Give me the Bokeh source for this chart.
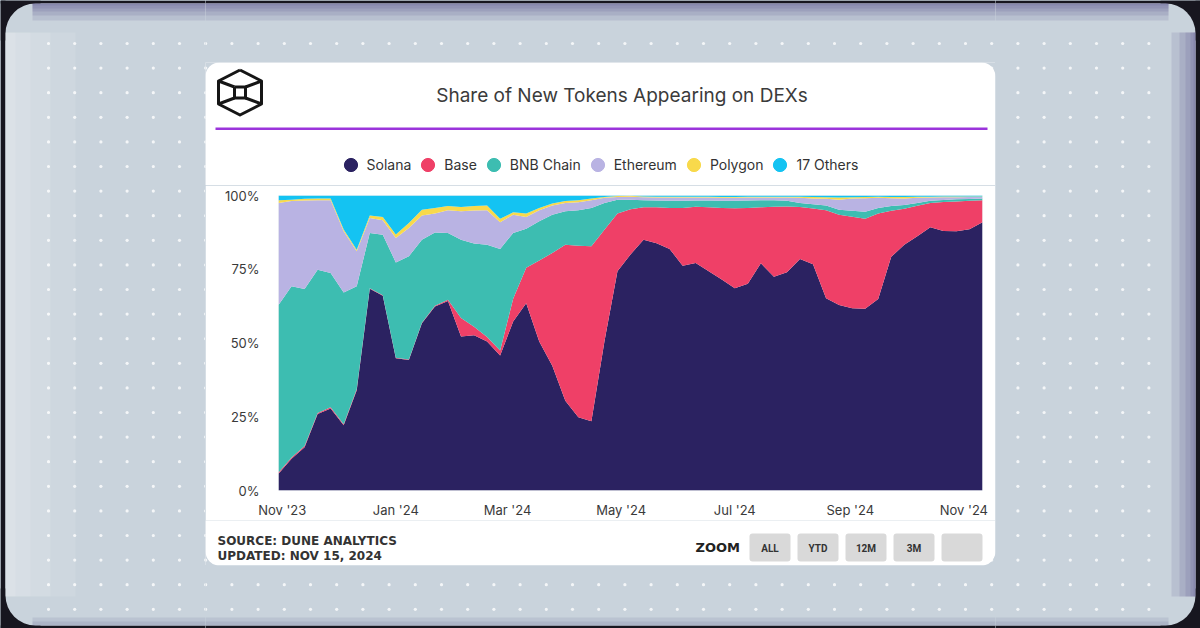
import numpy as np
import pandas as pd
from bokeh.plotting import figure
from bokeh.layouts import column, row
from bokeh.models import (ColumnDataSource, FixedTicker, DatetimeTickFormatter, PrintfTickFormatter,
                          BoxAnnotation, Label, Legend, LegendItem, Range1d)
from bokeh.embed import file_html
from bokeh.resources import INLINE

# ---------------- data (share of new tokens, %) ----------------
dates = ["2023-10-30", "2023-11-06", "2023-11-13", "2023-11-20", "2023-11-27",
         "2023-12-04", "2023-12-11", "2023-12-18", "2023-12-25", "2024-01-01",
         "2024-01-08", "2024-01-15", "2024-01-22", "2024-01-29", "2024-02-05",
         "2024-02-12", "2024-02-19", "2024-02-26", "2024-03-04", "2024-03-11",
         "2024-03-18", "2024-03-25", "2024-04-01", "2024-04-08", "2024-04-15",
         "2024-04-22", "2024-04-29", "2024-05-06", "2024-05-13", "2024-05-20",
         "2024-05-27", "2024-06-03", "2024-06-10", "2024-06-17", "2024-06-24",
         "2024-07-01", "2024-07-08", "2024-07-15", "2024-07-22", "2024-07-29",
         "2024-08-05", "2024-08-12", "2024-08-19", "2024-08-26", "2024-09-02",
         "2024-09-09", "2024-09-16", "2024-09-23", "2024-09-30", "2024-10-07",
         "2024-10-14", "2024-10-21", "2024-10-28", "2024-11-04", "2024-11-11"]

solana = [5.7, 10.8, 14.7, 25.9, 27.8, 22.1, 34.0, 68.4, 66.0, 44.8,
          44.2, 56.7, 62.4, 64.2, 52.2, 52.6, 50.5, 45.8, 57.3, 63.5,
          50.5, 42.3, 30.4, 24.8, 23.5, 50.5, 74.3, 80.0, 85.0, 83.8,
          81.9, 76.2, 77.1, 74.3, 71.5, 68.6, 70.1, 77.0, 72.5, 74.0,
          78.5, 76.7, 65.2, 62.9, 61.8, 61.6, 64.9, 79.2, 83.3, 86.2,
          89.2, 88.0, 87.9, 88.6, 90.9]
base = [0.4, 0.4, 0.4, 0.4, 0.4, 0.4, 0.4, 0.2, 0.2, 0.2,
        0.2, 0.2, 0.2, 0.5, 6.3, 2.9, 1.5, 1.7, 7.7, 12.0,
        27.5, 38.2, 52.9, 58.2, 59.3, 37.9, 19.6, 15.3, 11.0, 12.2,
        13.9, 19.6, 19.1, 21.7, 24.3, 27.1, 25.7, 19.0, 23.7, 22.3,
        17.6, 18.9, 29.8, 30.6, 31.0, 30.5, 29.0, 15.6, 12.2, 10.3,
        8.3, 9.8, 10.1, 9.6, 7.5]
bnb_chain = [56.8, 58.0, 53.2, 48.5, 45.5, 44.6, 34.8, 18.7, 20.5, 32.3,
             35.0, 28.1, 24.9, 22.6, 26.5, 28.2, 31.3, 34.4, 22.3, 13.2,
             13.3, 13.0, 11.4, 12.0, 13.0, 9.1, 4.7, 3.3, 2.4, 2.3,
             2.4, 2.4, 2.1, 2.3, 2.4, 2.5, 2.5, 2.4, 2.2, 1.9,
             1.4, 1.4, 1.6, 1.7, 2.0, 2.4, 1.9, 1.6, 1.3, 1.0,
             0.7, 0.7, 0.7, 0.6, 0.6]
ethereum = [34.6, 28.9, 30.0, 23.6, 24.7, 20.8, 11.9, 5.1, 4.9, 8.3,
            9.6, 8.2, 6.4, 7.7, 9.7, 11.2, 11.7, 9.0, 6.2, 4.0,
            3.7, 3.1, 2.8, 2.7, 2.6, 1.7, 0.9, 1.0, 1.0, 1.0,
            1.1, 1.1, 1.0, 1.0, 1.0, 1.0, 1.0, 0.9, 0.9, 1.1,
            1.7, 2.0, 2.3, 3.4, 4.2, 4.6, 3.4, 2.7, 2.2, 1.7,
            1.1, 0.9, 0.7, 0.7, 0.5]
polygon = [0.9, 0.5, 0.6, 0.6, 0.6, 0.6, 0.5, 0.8, 1.1, 1.2,
           1.7, 2.0, 1.9, 1.4, 1.4, 1.5, 1.6, 1.2, 0.8, 1.2,
           0.8, 0.7, 0.6, 0.7, 0.6, 0.3, 0.3, 0.3, 0.3, 0.3,
           0.3, 0.3, 0.3, 0.3, 0.3, 0.3, 0.3, 0.3, 0.3, 0.3,
           0.4, 0.5, 0.5, 0.7, 0.4, 0.4, 0.4, 0.4, 0.5, 0.4,
           0.3, 0.3, 0.3, 0.2, 0.2]
others = [1.6, 1.4, 1.1, 1.0, 1.0, 11.5, 18.4, 6.8, 7.3, 13.2,
          9.3, 4.8, 4.2, 3.6, 3.9, 3.6, 3.4, 7.9, 5.7, 6.1,
          4.2, 2.7, 1.9, 1.6, 1.0, 0.5, 0.2, 0.1, 0.3, 0.4,
          0.4, 0.4, 0.4, 0.4, 0.5, 0.5, 0.4, 0.4, 0.4, 0.4,
          0.4, 0.5, 0.6, 0.7, 0.6, 0.5, 0.4, 0.5, 0.5, 0.4,
          0.4, 0.3, 0.3, 0.3, 0.3]

series_names = ["Solana", "Base", "BNB Chain", "Ethereum", "Polygon", "17 Others"]
series_values = [solana, base, bnb_chain, ethereum, polygon, others]
series_colors = ["#2b2261", "#ef4067", "#3dbdb1", "#b9b3e3", "#f8d94b", "#14c3f2"]

y_ticks = [0, 25, 50, 75, 100]
x_tick_dates = ["2023-11-01", "2024-01-01", "2024-03-01", "2024-05-01",
                "2024-07-01", "2024-09-01", "2024-11-01"]
title_text = "Share of New Tokens Appearing on DEXs"
source_lines = ["SOURCE: DUNE ANALYTICS", "UPDATED: NOV 15, 2024"]
zoom_label = "ZOOM"
zoom_buttons = ["ALL", "YTD", "12M", "3M", ""]

# ---------------- styling constants ----------------
DARK = "#17161f"
PANEL = "#c9d3dc"
SHADE = "#3f3b78"
TEXT = "#333333"

def box(f, X0, Y0, X1, Y1, color, alpha=1.0, radius=0, level="image"):
    f.add_layout(BoxAnnotation(left=X0, right=X1, top=Y0, bottom=Y1,
                               fill_color=color, fill_alpha=alpha, line_color=None,
                               border_radius=radius, level=level))

def lab(f, X, Y, text, size, color=TEXT, font="Inter", style="normal", align="left"):
    f.add_layout(Label(x=X, y=Y, text=text, text_font_size=f"{size}px", text_color=color,
                       text_font=font, text_font_style=style, text_align=align,
                       text_baseline="middle"))

dot_x = np.arange(48, 1160, 26.2)
dot_y = np.arange(43, 620, 24.6)
DX, DY = np.meshgrid(dot_x, dot_y)

def decorate(f):
    # dark outer frame (edges and corners), then the rounded light panel
    box(f, 0, 0, 1200, 3, DARK)
    box(f, 0, 625, 1200, 628, DARK)
    box(f, 0, 0, 5, 628, DARK)
    box(f, 1195, 0, 1200, 628, DARK)
    for cx0, cy0 in [(0, 0), (1160, 0), (0, 588), (1160, 588)]:
        box(f, cx0, cy0, cx0 + 40, cy0 + 40, DARK)
    box(f, 5, 3, 1195, 625, PANEL, radius=30)
    for w in [70, 45, 25, 10]:
        box(f, 5, 32, 5 + w, 596, "white", alpha=0.10)
    for h in [17, 12, 8, 5, 2]:
        box(f, 32, 3, 1168, 3 + h, SHADE, alpha=0.12)
    for w in [24, 16, 10, 5, 2]:
        box(f, 1195 - w, 32, 1195, 596, SHADE, alpha=0.12)
    for h in [8, 4]:
        box(f, 32, 625 - h, 1168, 625, SHADE, alpha=0.10)
    f.scatter(DX.ravel(), DY.ravel(), size=3.2, marker="circle", level="underlay",
              fill_color="white", line_color=None, fill_alpha=0.8)
    box(f, 205, 62, 995, 565, "white", radius=14, level="underlay")

# page tiles in page-pixel coordinates (y pointing down) around the chart
def tile(X0, X1, Y0, Y1, bg):
    f = figure(width=X1 - X0, height=Y1 - Y0,
               x_range=Range1d(X0, X1), y_range=Range1d(Y1, Y0),
               x_axis_location=None, y_axis_location=None,
               output_backend="svg", toolbar_location=None, min_border=0)
    f.grid.grid_line_color = None
    f.outline_line_color = None
    f.border_fill_color = bg
    f.background_fill_color = bg
    decorate(f)
    return f

left = tile(0, 205, 0, 628, PANEL)
right = tile(995, 1200, 0, 628, PANEL)
cap = tile(205, 995, 0, 62, PANEL)
top = tile(205, 995, 62, 185, "white")
footer = tile(205, 995, 520, 565, "white")
base_tile = tile(205, 995, 565, 628, PANEL)

# ---------------- chart ----------------
d = pd.to_datetime(dates)
src = ColumnDataSource(dict(date=d, **{n: v for n, v in zip(series_names, series_values)}))

chart = figure(width=790, height=335, x_axis_type="datetime",
               x_range=Range1d(d[0].to_pydatetime(), d[-1].to_pydatetime()),
               y_range=Range1d(0, 100),
               output_backend="svg", toolbar_location=None,
               min_border_left=73, min_border_right=13,
               min_border_top=10, min_border_bottom=30)
chart.border_fill_color = "white"
chart.background_fill_color = "white"
chart.outline_line_color = None
chart.grid.grid_line_color = None

chart.varea_stack(stackers=series_names, x="date", color=series_colors, source=src)

chart.xaxis.ticker = FixedTicker(ticks=[pd.Timestamp(t).value / 1e6 for t in x_tick_dates])
fmt = "%b '%y"
chart.xaxis.formatter = DatetimeTickFormatter(days=fmt, months=fmt, years=fmt)
chart.yaxis.ticker = FixedTicker(ticks=y_ticks)
chart.yaxis.formatter = PrintfTickFormatter(format="%d%%")
for ax in (chart.xaxis, chart.yaxis):
    ax.axis_line_color = None
    ax.major_tick_line_color = None
    ax.minor_tick_line_color = None
    ax.major_tick_out = 0
    ax.major_tick_in = 0
    ax.major_label_text_font = "Inter"
    ax.major_label_text_font_size = "13px"
    ax.major_label_text_color = "#3a3a3a"
chart.yaxis.major_label_standoff = 19
chart.xaxis.major_label_standoff = 11

# ---------------- header (card top tile) ----------------
lab(top, 621.5, 95, title_text, 19, color="#3b3b3b", align="center")
box(top, 215, 127, 987, 129.5, "#9b34db", level="annotation")
hex_x = [239.5, 261, 261, 239.5, 218, 218, 239.5]
hex_y = [69.5, 80.5, 103.5, 114.5, 103.5, 80.5, 69.5]
top.line(hex_x, hex_y, line_color="#161616", line_width=3, line_join="round")
top.line([234, 245, 245, 234, 234], [86.5, 86.5, 97.5, 97.5, 86.5],
         line_color="#161616", line_width=3, line_join="round")
top.multi_line([[218, 234], [261, 245], [218, 234], [261, 245]],
               [[80.5, 86.5], [80.5, 86.5], [103.5, 97.5], [103.5, 97.5]],
               line_color="#161616", line_width=3)

items = []
for name, color in zip(series_names, series_colors):
    r = top.scatter(x=[-10000], y=[-10000], marker="circle", size=10,
                    fill_color=color, line_color=color)
    items.append(LegendItem(label=name, renderers=[r]))
legend = Legend(items=items, location=(333.5 - 205, 185 - 180.5), orientation="horizontal",
                glyph_width=33, glyph_height=33, label_standoff=0, spacing=0,
                padding=0, margin=0, border_line_color=None, background_fill_alpha=0,
                label_text_font="Inter", label_text_font_size="14px",
                label_text_color=TEXT)
top.add_layout(legend)

# ---------------- footer ----------------
lab(footer, 217, 540, source_lines[0], 12, font="DejaVu Sans", style="bold")
lab(footer, 217, 555, source_lines[1], 12, font="DejaVu Sans", style="bold")
lab(footer, 695, 547, zoom_label, 13, color="#222222", font="DejaVu Sans", style="bold")
for x0, t in zip([749, 797, 845, 893, 941], zoom_buttons):
    box(footer, x0, 533, x0 + 41, 561, "#d9d9d9", radius=3, level="annotation")
    if t:
        lab(footer, x0 + 20.5, 548, t, 10, font="Roboto", style="bold", align="center")

p = row(left, column(cap, top, row(chart), footer, base_tile, spacing=0), right,
        spacing=0, styles={"background-color": PANEL})
open("out.html", "w").write(file_html(p, INLINE))
